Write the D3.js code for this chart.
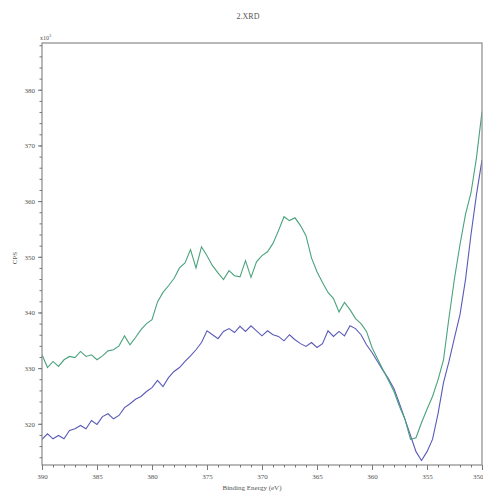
<!DOCTYPE html>
<html>
<head>
<meta charset="utf-8">
<script src="https://cdn.jsdelivr.net/npm/d3@7"></script>
<style>
html,body{margin:0;padding:0;background:#fff;}
svg{display:block;}
text{font-family:"Liberation Serif","DejaVu Serif",serif;fill:#555;}
</style>
</head>
<body>
<svg id="chart" width="483" height="493"></svg>
<script>
// ---- data ----
const title = "2.XRD";
const xLabel = "Binding Energy (eV)";
const yLabel = "CPS";
const yMultiplier = "x10";
const xStart = 390, xStep = -0.5;
const xTicks = [390, 385, 380, 375, 370, 365, 360, 355, 350];
const yTicks = [320, 330, 340, 350, 360, 370, 380];
const greenValues = [
 332.4,330.1,331.2,330.3,331.5,332.1,331.9,333.0,332.1,332.4,
 331.5,332.2,333.1,333.3,334.0,335.8,334.2,335.5,336.9,338.0,
 338.7,341.9,343.6,344.8,346.1,348.0,348.9,351.3,348.0,351.8,
 350.2,348.4,347.1,345.9,347.5,346.6,346.4,349.3,346.3,349.1,
 350.2,350.9,352.4,354.7,357.2,356.5,357.0,355.6,353.8,349.8,
 347.3,345.4,343.6,342.5,340.1,341.8,340.5,338.9,338.0,336.6,
 333.7,331.7,329.7,327.8,325.8,323.1,320.8,317.2,317.5,320.2,
 322.6,324.9,327.9,331.5,339.1,346.1,352.2,357.6,361.5,367.8,
 376.1
];
const blueValues = [
 317.2,318.2,317.3,317.9,317.3,318.8,319.1,319.7,319.1,320.6,
 319.9,321.3,321.8,320.9,321.5,322.9,323.6,324.4,324.9,325.8,
 326.5,327.8,326.7,328.3,329.4,330.1,331.2,332.2,333.3,334.6,
 336.7,336.0,335.3,336.6,337.1,336.4,337.5,336.6,337.6,336.7,
 335.8,336.7,336.0,335.7,334.9,336.0,335.1,334.4,333.9,334.6,
 333.7,334.4,336.7,335.7,336.6,335.8,337.6,337.1,336.0,334.2,
 332.8,331.2,329.6,328.1,326.3,323.6,320.8,317.9,315.0,313.4,
 315.0,317.2,321.8,327.4,331.2,335.5,339.6,345.9,354.0,361.2,
 367.4
];

// ---- layout ----
const svg = d3.select("#chart");
const L = 42, R = 482, T = 43, B = 465;
const x = d3.scaleLinear().domain([390, 350]).range([L, R]);
const y = d3.scaleLinear().domain([312.6, 388.4]).range([B, T]);

const toPts = vals => vals.map((v, i) => [xStart + i * xStep, v]);

svg.append("clipPath").attr("id","clip").append("rect")
  .attr("x", L).attr("y", T).attr("width", R - L).attr("height", B - T);

const line = d3.line().x(d => x(d[0])).y(d => y(d[1]));
const g = svg.append("g").attr("clip-path","url(#clip)");
g.append("path").datum(toPts(blueValues)).attr("d", line)
  .attr("fill","none").attr("stroke","#5a5ab8").attr("stroke-width",1.1);
g.append("path").datum(toPts(greenValues)).attr("d", line)
  .attr("fill","none").attr("stroke","#4aa27c").attr("stroke-width",1.1);

// frame
svg.append("rect").attr("x", L).attr("y", T).attr("width", R - L).attr("height", B - T)
  .attr("fill","none").attr("stroke","#8a8a8a").attr("stroke-width",1.2);

// x axis
const xMinor = d3.range(390, 349.9, -1);
const xAxis = svg.append("g").attr("transform",`translate(0,${B})`)
  .call(d3.axisBottom(x).tickValues(xMinor).tickSize(2.5).tickFormat(""));
const xMajor = svg.append("g").attr("transform",`translate(0,${B})`)
  .call(d3.axisBottom(x).tickValues(xTicks).tickSize(5).tickPadding(4).tickFormat(d3.format("d")));
[xAxis, xMajor].forEach(a => {
  a.select(".domain").remove();
  a.selectAll("line").attr("stroke","#777");
  a.selectAll("text").style("font-size","7px").attr("fill","#555");
});
// keep the last label inside the window
xMajor.selectAll(".tick text").filter(d => d === 350).attr("text-anchor","end").attr("dx", 1);

// y axis
const yMinor = d3.range(314, 388.1, 2);
const yAxis = svg.append("g").attr("transform",`translate(${L},0)`)
  .call(d3.axisLeft(y).tickValues(yMinor).tickSize(2.5).tickFormat(""));
const yMajor = svg.append("g").attr("transform",`translate(${L},0)`)
  .call(d3.axisLeft(y).tickValues(yTicks).tickSize(4).tickPadding(3).tickFormat(d3.format("d")));
[yAxis, yMajor].forEach(a => {
  a.select(".domain").remove();
  a.selectAll("line").attr("stroke","#777");
  a.selectAll("text").style("font-size","7px").attr("fill","#555");
});

// multiplier
const mt = svg.append("text").attr("x", L - 2).attr("y", T - 3).style("font-size","6px");
mt.append("tspan").text(yMultiplier);
mt.append("tspan").attr("dy", -3).style("font-size","4.5px").text("3");

// title & labels
svg.append("text").attr("x", 248).attr("y", 19).attr("text-anchor","middle")
  .style("font-size","8px").text(title);
svg.append("text").attr("x", 252).attr("y", 490).attr("text-anchor","middle")
  .style("font-size","7px").text(xLabel);
svg.append("text").attr("transform","translate(17,258) rotate(-90)").attr("text-anchor","middle")
  .style("font-size","7px").text(yLabel);
</script>
</body>
</html>
